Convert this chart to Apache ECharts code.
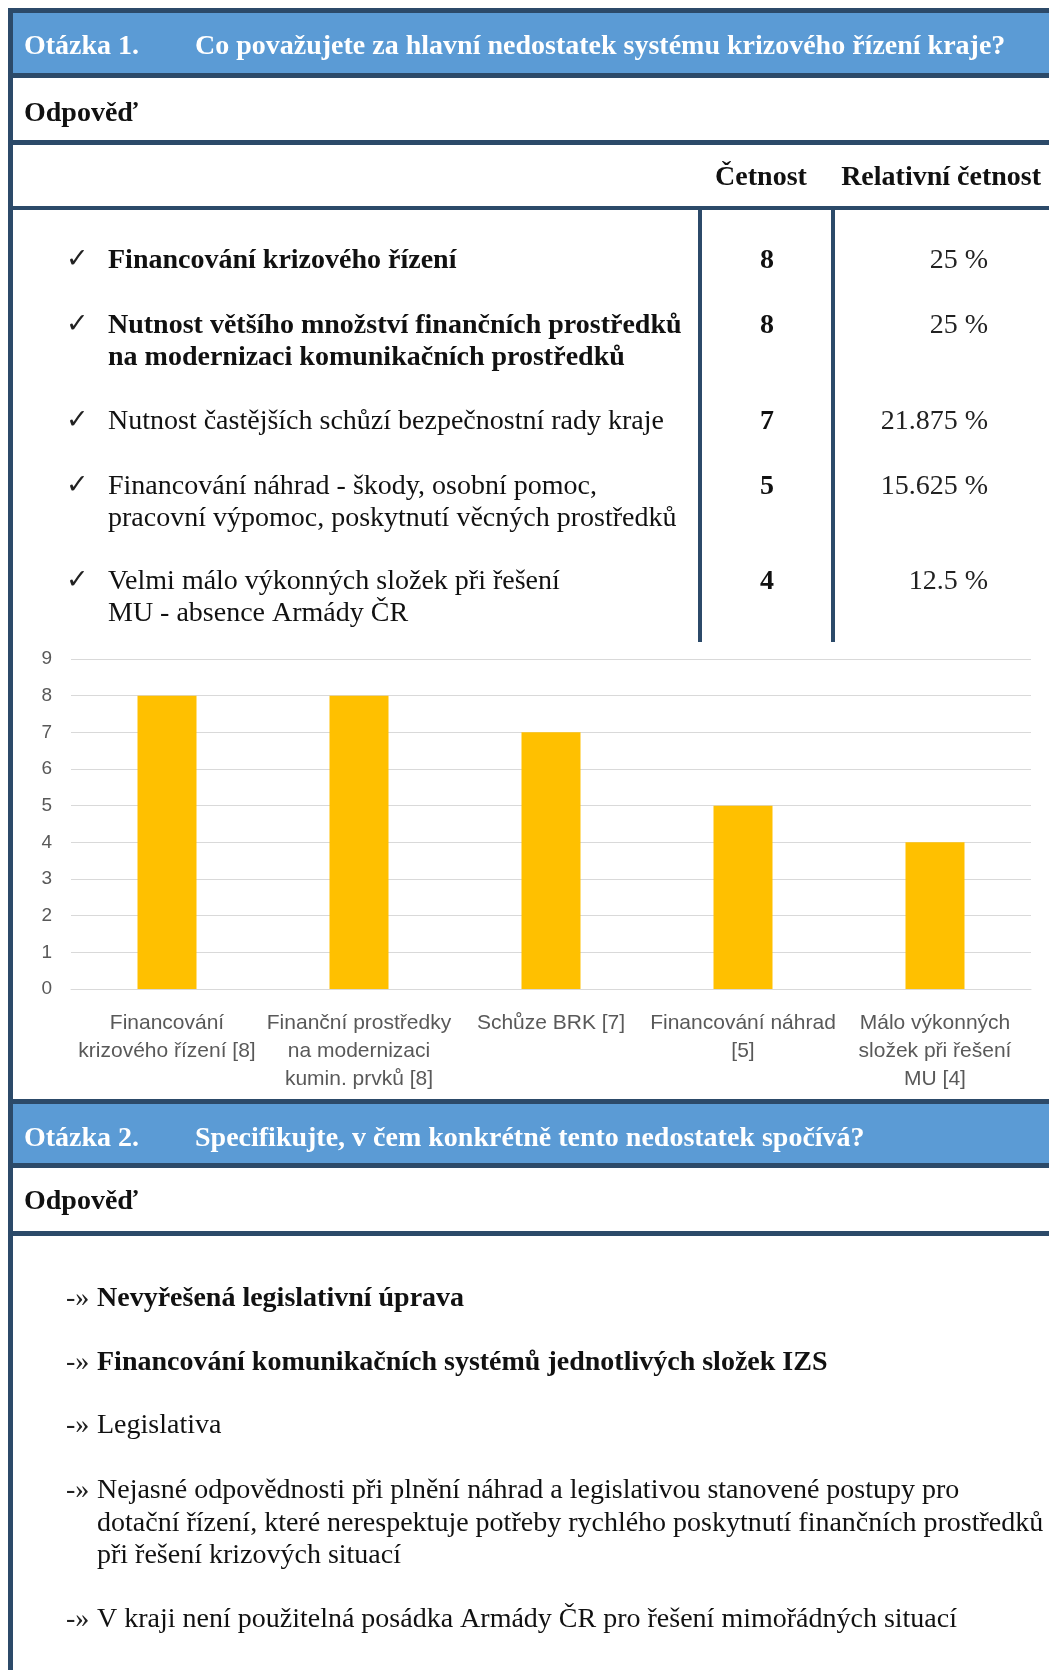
<!DOCTYPE html>
<html>
<head>
<meta charset="utf-8">
<script src="https://cdn.jsdelivr.net/npm/echarts@6/dist/echarts.min.js"></script>
<style>
  html, body { margin: 0; padding: 0; background: #ffffff; }
  #main { width: 1049px; height: 1670px; }
</style>
</head>
<body>
<div id="main"></div>
<script>
// ---------- DATA ----------
var q1Label = 'Otázka 1.';
var q1Title = 'Co považujete za hlavní nedostatek systému krizového řízení kraje?';
var q2Label = 'Otázka 2.';
var q2Title = 'Specifikujte, v čem konkrétně tento nedostatek spočívá?';
var answerLabel = 'Odpověď';
var colHeaders = ['Četnost', 'Relativní četnost'];

var q1Items = [
  'Financování krizového řízení',
  'Nutnost většího množství finančních prostředků\nna modernizaci komunikačních prostředků',
  'Nutnost častějších schůzí bezpečnostní rady kraje',
  'Financování náhrad - škody, osobní pomoc,\npracovní výpomoc, poskytnutí věcných prostředků',
  'Velmi málo výkonných složek při řešení\nMU - absence Armády ČR'
];
var q1Bold = [true, true, false, false, false];
var counts = [8, 8, 7, 5, 4];
var relativePct = ['25 %', '25 %', '21.875 %', '15.625 %', '12.5 %'];

var chartCategories = [
  'Financování\nkrizového řízení [8]',
  'Finanční prostředky\nna modernizaci\nkumin. prvků [8]',
  'Schůze BRK [7]',
  'Financování náhrad\n[5]',
  'Málo výkonných\nsložek při řešení\nMU [4]'
];
var chartValues = [8, 8, 7, 5, 4];
var yTickLabels = ['0', '1', '2', '3', '4', '5', '6', '7', '8', '9'];

var q2Items = [
  'Nevyřešená legislativní úprava',
  'Financování komunikačních systémů jednotlivých složek IZS',
  'Legislativa',
  'Nejasné odpovědnosti při plnění náhrad a legislativou stanovené postupy pro\ndotační řízení, které nerespektuje potřeby rychlého poskytnutí finančních prostředků\npři řešení krizových situací',
  'V kraji není použitelná posádka Armády ČR pro řešení mimořádných situací'
];
var q2Bold = [true, true, false, false, false];

// ---------- LAYOUT ----------
var DARK = '#2C4A69';
var BLUE = '#5B9BD5';
var SERIF = '"Liberation Serif", "Times New Roman", serif';
var SANS = '"Liberation Sans", Arial, sans-serif';
var W = 1049, H = 1670;

var g = [];
function rect(x, y, w, h, color) {
  g.push({ type: 'rect', shape: { x: x, y: y, width: w, height: h }, style: { fill: color }, silent: true, z: 10 });
}
function text(x, y, str, font, color, align, lh) {
  g.push({
    type: 'text', x: x, y: y, silent: true, z: 11,
    style: { text: str, font: font, fill: color, textAlign: align || 'left', textVerticalAlign: 'middle', lineHeight: lh || 32 }
  });
}

// frame & header bands (question 1)
rect(8, 8, 5, H - 8, DARK);
rect(8, 8, W - 8, 5, DARK);
rect(13, 13, W - 13, 60, BLUE);
rect(8, 73, W - 8, 5, DARK);
rect(8, 140, W - 8, 5, DARK);
rect(8, 206, W - 8, 4, DARK);
rect(698, 206, 4, 436, DARK);
rect(831, 206, 4, 436, DARK);

text(24, 47, q1Label, 'bold 28px ' + SERIF, '#FFFFFF');
text(195, 47, q1Title, 'bold 28px ' + SERIF, '#FFFFFF');
text(24, 114, answerLabel, 'bold 28px ' + SERIF, '#111111');
text(761, 178, colHeaders[0], 'bold 28px ' + SERIF, '#111111', 'center');
text(1041, 178, colHeaders[1], 'bold 28px ' + SERIF, '#111111', 'right');

var q1RowY = [261, 326, 422, 487, 582];
var q1LineH = 32;
for (var i = 0; i < q1Items.length; i++) {
  var y = q1RowY[i];
  text(66, y - 1, '✓', '27px "DejaVu Sans", sans-serif', '#222222');
  var lines = q1Items[i].split('\n');
  text(108, y + (lines.length - 1) * q1LineH / 2, q1Items[i], (q1Bold[i] ? 'bold ' : '') + '28px ' + SERIF, '#111111', 'left', q1LineH);
  text(767, y, String(counts[i]), 'bold 28px ' + SERIF, '#111111', 'center');
  text(988, y, relativePct[i], '28px ' + SERIF, '#222222', 'right');
}

// question 2 bands
rect(8, 1099, W - 8, 5, DARK);
rect(13, 1104, W - 13, 59, BLUE);
rect(8, 1163, W - 8, 5, DARK);
rect(8, 1231, W - 8, 5, DARK);

text(24, 1139, q2Label, 'bold 28px ' + SERIF, '#FFFFFF');
text(195, 1139, q2Title, 'bold 28px ' + SERIF, '#FFFFFF');
text(24, 1202, answerLabel, 'bold 28px ' + SERIF, '#111111');

var q2RowY = [1299, 1363, 1426, 1491, 1620];
var q2LineH = 32.5;
for (var j = 0; j < q2Items.length; j++) {
  var yy = q2RowY[j];
  var ls = q2Items[j].split('\n');
  text(66, yy, '-»', '28px ' + SERIF, '#222222');
  text(97, yy + (ls.length - 1) * q2LineH / 2, q2Items[j], (q2Bold[j] ? 'bold ' : '') + '28px ' + SERIF, '#111111', 'left', q2LineH);
}

// ---------- CHART ----------
var chart = echarts.init(document.getElementById('main'), null, { renderer: 'canvas', width: W, height: H });
chart.setOption({
  backgroundColor: '#FFFFFF',
  animation: false,
  grid: { left: 71, right: 18, top: 659, bottom: H - 989, containLabel: false },
  xAxis: {
    type: 'category',
    data: chartCategories,
    axisLine: { show: true, lineStyle: { color: '#D9D9D9', width: 1 } },
    axisTick: { show: false },
    axisLabel: {
      interval: 0, margin: 20, color: '#595959',
      fontFamily: SANS, fontSize: 21, lineHeight: 28, align: 'center'
    }
  },
  yAxis: {
    type: 'value', min: 0, max: 9, interval: 1,
    axisLine: { show: false },
    axisTick: { show: false },
    splitLine: { lineStyle: { color: '#D9D9D9', width: 1 } },
    axisLabel: {
      margin: 19, color: '#595959', fontFamily: SANS, fontSize: 19,
      formatter: function (v) { return yTickLabels[v]; }
    }
  },
  series: [{
    type: 'bar',
    data: chartValues,
    barWidth: 59,
    itemStyle: { color: '#FFC000' }
  }],
  graphic: { elements: g }
});
</script>
</body>
</html>
